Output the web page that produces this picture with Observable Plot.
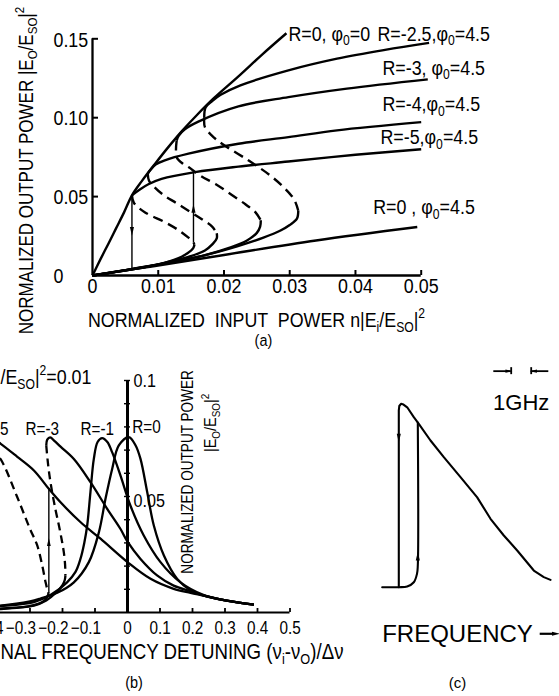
<!DOCTYPE html>
<html><head><meta charset="utf-8">
<script src="https://cdn.jsdelivr.net/npm/d3@7"></script>
<script src="https://cdn.jsdelivr.net/npm/@observablehq/plot@0.6"></script>
<style>
html,body{margin:0;padding:0;background:#fff;}
#fig{position:relative;width:559px;height:696px;overflow:hidden;background:#fff;}
#fig svg{position:absolute;left:0;top:0;}
</style></head><body><div id="fig"></div>
<script>
// ---------------- Panel (a): output power vs input power ----------------
const aEnvelope = [[0,0],[0.0012,0.0102],[0.0024,0.020],[0.0036,0.030],[0.0048,0.040],[0.006,0.0508],[0.0075,0.0598],[0.0095,0.0707],[0.0115,0.0812],[0.0136,0.0915],[0.016,0.1022],[0.0185,0.1125],[0.0222,0.1262],[0.0258,0.140],[0.0295,0.1535]];
const aR0phi45 = [[0,0],[0.0065,0.0042],[0.0095,0.0060],[0.02,0.0130],[0.034,0.0222],[0.0494,0.0307]];
const aR5Upper = [[0.006,0.0508],[0.0072,0.0545],[0.0085,0.0578],[0.0105,0.0612],[0.0156,0.0655],[0.0222,0.069],[0.0298,0.0722],[0.040,0.0765],[0.050,0.0800]];
const aR5Middle = [[0.006,0.0508],[0.0063,0.046],[0.008,0.040],[0.011,0.0338],[0.0131,0.0287],[0.0146,0.0240],[0.0153,0.0215],[0.0155,0.0195]];
const aR5Lower = [[0,0],[0.004,0.0026],[0.008,0.0053],[0.011,0.008],[0.013,0.0108],[0.0145,0.0142],[0.0153,0.0172],[0.0155,0.0195]];
const aR4Upper = [[0.0084,0.0645],[0.0088,0.0668],[0.0096,0.0703],[0.011,0.0730],[0.0146,0.0772],[0.0222,0.0835],[0.0298,0.0877],[0.0372,0.092],[0.050,0.0972]];
const aR4Middle = [[0.0084,0.0645],[0.0086,0.060],[0.0093,0.0565],[0.0108,0.051],[0.0128,0.0458],[0.0148,0.0405],[0.0167,0.0355],[0.0182,0.031],[0.0189,0.0268]];
const aR4Lower = [[0,0],[0.005,0.0033],[0.009,0.0062],[0.0125,0.0095],[0.0146,0.0118],[0.0171,0.0159],[0.0183,0.020],[0.0189,0.0235],[0.0189,0.0268]];
const aR3Upper = [[0.0128,0.0855],[0.0131,0.0885],[0.0140,0.0925],[0.0161,0.0975],[0.0222,0.1072],[0.0298,0.113],[0.0387,0.1184],[0.051,0.1243]];
const aR3Middle = [[0.0128,0.0855],[0.0127,0.080],[0.0128,0.075],[0.0137,0.071],[0.0146,0.0687],[0.0165,0.063],[0.0187,0.058],[0.0212,0.051],[0.0233,0.045],[0.0248,0.040],[0.0256,0.035]];
const aR3Lower = [[0,0],[0.006,0.004],[0.012,0.0085],[0.017,0.0128],[0.021,0.0178],[0.0235,0.0222],[0.025,0.027],[0.0255,0.031],[0.0256,0.035]];
const aR25Upper = [[0.0170,0.100],[0.0172,0.1065],[0.0182,0.1105],[0.0195,0.1145],[0.0225,0.1205],[0.0298,0.130],[0.0372,0.1374],[0.0445,0.1430],[0.0512,0.1474]];
const aR25Middle = [[0.0170,0.100],[0.0171,0.094],[0.0182,0.0885],[0.0197,0.0835],[0.0237,0.073],[0.0270,0.0635],[0.0293,0.055],[0.0307,0.048],[0.0313,0.041]];
const aR25Lower = [[0,0],[0.005,0.0034],[0.011,0.0078],[0.017,0.0128],[0.022,0.0185],[0.026,0.024],[0.0286,0.0285],[0.0300,0.032],[0.0311,0.036],[0.0313,0.041]];
const aJumps = [{x:0.006, from:0.0505, to:0.0042, head:0.0285, dir:"down"}, {x:0.01536, from:0.0205, to:0.0655, head:0.042, dir:"up"}];
const aXTickValues = [0,0.01,0.02,0.03,0.04,0.05];
const aXTickLabels = ["0","0.01","0.02","0.03","0.04","0.05"];
const aYTickValues = [0,0.05,0.10,0.15];
const aYTickLabels = ["0","0.05","0.10","0.15"];
const aSeriesLabels = ["R=0, φ_{0}=0","R=-2.5,φ_{0}=4.5","R=-3, φ_{0}=4.5","R=-4,φ_{0}=4.5","R=-5,φ_{0}=4.5","R=0 , φ_{0}=4.5"];
const aSeriesLabelAt = [[0.0298,0.1530],[0.04335,0.1530],[0.0441,0.1316],[0.0441,0.1084],[0.0438,0.0875],[0.0427,0.0430]];
const aXTitle = "NORMALIZED  INPUT  POWER n|E_{i}/E_{SO}|^{2}";
const aYTitle = "NORMALIZED OUTPUT POWER |E_{O}/E_{SO}|^{2}";
const aCaption = "(a)";

// ---------------- Panel (b): output power vs detuning ----------------
const bR0 = [[-0.42,0.0028],[-0.39,0.003],[-0.30,0.0048],[-0.268,0.006],[-0.216,0.0085],[-0.165,0.013],[-0.119,0.0217],[-0.088,0.0346],[-0.0677,0.049],[-0.047,0.062],[-0.0267,0.072],[0.004,0.0756],[0.025,0.072],[0.04,0.0662],[0.0606,0.0519],[0.081,0.0375],[0.112,0.0246],[0.153,0.0145],[0.194,0.0095],[0.235,0.0073],[0.31,0.0050],[0.389,0.0034]];
const bR1 = [[-0.42,0.0025],[-0.39,0.0028],[-0.288,0.0045],[-0.237,0.0075],[-0.186,0.013],[-0.160,0.0175],[-0.145,0.023],[-0.133,0.030],[-0.124,0.0375],[-0.114,0.0519],[-0.1036,0.0662],[-0.092,0.0735],[-0.078,0.0752],[-0.062,0.0735],[-0.047,0.069],[-0.0215,0.059],[0.0092,0.046],[0.05,0.0332],[0.1015,0.0217],[0.163,0.013],[0.235,0.0075],[0.31,0.0050],[0.389,0.0034]];
const bR3Upper = [[-0.25,0.072],[-0.247,0.0745],[-0.238,0.0755],[-0.225,0.074],[-0.206,0.0715],[-0.165,0.0662],[-0.114,0.0562],[-0.0625,0.0447],[-0.0215,0.036],[0,0.0305],[0.04,0.0231],[0.091,0.016],[0.142,0.0116],[0.194,0.0092],[0.235,0.0073],[0.31,0.005],[0.389,0.0034]];
const bR3Middle = [[-0.25,0.072],[-0.246,0.066],[-0.24,0.059],[-0.232,0.052],[-0.221,0.044],[-0.211,0.0375],[-0.202,0.031],[-0.196,0.026],[-0.192,0.0205],[-0.191,0.016]];
const bR3Lower = [[-0.42,0.0015],[-0.39,0.0017],[-0.288,0.003],[-0.25,0.0052],[-0.22,0.0085],[-0.2,0.0118],[-0.193,0.014],[-0.191,0.016]];
const bR5Upper = [[-0.44,0.0755],[-0.415,0.075],[-0.39,0.0727],[-0.34,0.0672],[-0.288,0.0612],[-0.242,0.0533],[-0.206,0.0475],[-0.145,0.039],[-0.083,0.0318],[0,0.0217],[0.071,0.0145],[0.142,0.0102],[0.194,0.0085],[0.235,0.0073],[0.31,0.005],[0.389,0.0034]];
const bR5Middle = [[-0.44,0.0755],[-0.425,0.072],[-0.39,0.066],[-0.34,0.050],[-0.30,0.036],[-0.278,0.029],[-0.262,0.020],[-0.252,0.013],[-0.245,0.009],[-0.243,0.008]];
const bR5Lower = [[-0.44,0.0012],[-0.39,0.0015],[-0.33,0.0022],[-0.288,0.0032],[-0.262,0.0045],[-0.25,0.006],[-0.243,0.008]];
const bJump = [{x:-0.242, from:0.008, to:0.0533, head:0.030}];
const bXTickValues = [-0.4,-0.3,-0.2,-0.1,0,0.1,0.2,0.3,0.4,0.5];
const bXTickLabels = ["−0.4","−0.3","−0.2","−0.1","0","0.1","0.2","0.3","0.4","0.5"];
const bYTickValues = [0.01,0.02,0.03,0.04,0.05,0.06,0.07,0.08,0.09,0.1];
const bYTickLabels = ["0.1","0.05"];
const bYTickLabelValues = [0.0998,0.0483];
const bSeriesLabels = ["R=-5","R=-3","R=-1","R=0"];
const bSeriesLabelAt = [[-0.3662,0.0792],[-0.3138,0.0792],[-0.1446,0.0792],[0.0145,0.0797]];
const bInputLabel = "/E_{SO}|^{2}=0.01";
const bXTitle = "NAL FREQUENCY DETUNING (ν_{i}-ν_{O})/Δν";
const bYTitle1 = "NORMALIZED OUTPUT POWER";
const bYTitle2 = "|E_{O}/E_{SO}|^{2}";
const bCaption = "(b)";

// ---------------- Panel (c): measured trace ----------------
const cDownSweep = [[0.83,0],[0.83,0.964],[0.855,0.988],[0.94,1.0],[1.065,0.996],[1.25,0.981],[1.58,0.927],[1.83,0.891],[2.415,0.80],[3.08,0.709],[3.915,0.60],[4.75,0.49],[5.415,0.373],[6.08,0.282],[6.75,0.20],[7.58,0.091],[8.08,0.055],[8.415,0.04]];
const cUpSweep = [[0,0],[0.83,0],[1.25,0.004],[1.58,0.027],[1.74,0.073],[1.78,0.118],[1.78,0.898]];
const cArrows = [{f:0.83, i:0.818, dir:"down"}, {f:1.78, i:0.164, dir:"up"}];
const cScaleBar = [6.45, 7.45]; // 1 GHz
const cScaleLabel = "1GHz";
const cXTitle = "FREQUENCY";
const cCaption = "(c)";

// ---------------- helpers ----------------
const W = 559, H = 696;
const FN = '"Liberation Sans",Arial,sans-serif';
const FR = '"Liberation Sans",Arial,sans-serif';
const headUp = {draw(c, size){const s=Math.sqrt(size); c.moveTo(0,-s*0.9); c.lineTo(s*0.36,s*0.6); c.lineTo(-s*0.36,s*0.6); c.closePath();}};
const headDown = {draw(c, size){const s=Math.sqrt(size); c.moveTo(0,s*0.9); c.lineTo(s*0.36,-s*0.6); c.lineTo(-s*0.36,-s*0.6); c.closePath();}};
const headRight = {draw(c, size){const s=Math.sqrt(size); c.moveTo(s*0.9,0); c.lineTo(-s*0.6,s*0.36); c.lineTo(-s*0.6,-s*0.36); c.closePath();}};
const headLeft = {draw(c, size){const s=Math.sqrt(size); c.moveTo(-s*0.9,0); c.lineTo(s*0.6,s*0.36); c.lineTo(s*0.6,-s*0.36); c.closePath();}};
const curve = (pts, sw, dash) => Plot.line(pts, {x: d => d[0], y: d => d[1], stroke: "black", strokeWidth: sw, curve: "catmull-rom", strokeDasharray: dash, strokeLinecap: "butt", strokeLinejoin: "round"});

function rich(svg, squeeze) {
  svg.querySelectorAll("text").forEach(t => {
    if (squeeze !== 1) t.setAttribute("transform", (t.getAttribute("transform") || "") + ` scale(${squeeze},1)`);
    const s = t.textContent;
    if (!/[_^]\{/.test(s)) return;
    const fs = parseFloat(getComputedStyle(t).fontSize) || 16;
    t.textContent = "";
    const re = /([_^])\{([^}]*)\}/g;
    let last = 0, m, cur = 0;
    const add = (str, kind) => {
      if (!str) return;
      const ts = document.createElementNS("http://www.w3.org/2000/svg", "tspan");
      ts.textContent = str;
      const target = kind === "_" ? 0.22 : kind === "^" ? -0.42 : 0;
      if (kind) ts.setAttribute("font-size", (fs * 0.68).toFixed(1));
      const dy = (target - cur) * fs;
      if (dy) ts.setAttribute("dy", dy.toFixed(2));
      cur = target;
      t.appendChild(ts);
    };
    while ((m = re.exec(s))) { add(s.slice(last, m.index), null); add(m[2], m[1]); last = re.lastIndex; }
    add(s.slice(last), null);
  });
}
const fig = document.getElementById("fig");
function place(p, squeeze) { fig.appendChild(p); rich(p, squeeze); }

// ---------------- draw (a) ----------------
place(Plot.plot({
  width: W, height: H, margin: 0, style: {background: "transparent"},
  x: {domain: [0, 0.05], range: [92, 420.7], axis: null},
  y: {domain: [0, 0.15], range: [275, 38.3], axis: null},
  marks: [
    Plot.ruleX([0], {y1: 0, y2: 0.15, strokeWidth: 2.3}),
    Plot.ruleY([0], {x1: 0, x2: 0.05, strokeWidth: 2.3}),
    Plot.ruleY(aYTickValues.slice(1), {y: d => d, x1: 0, x2: 0, insetRight: -6, strokeWidth: 2}),
    Plot.ruleX(aXTickValues.slice(1), {x: d => d, y1: 0, y2: 0, insetTop: -5, strokeWidth: 2}),
    curve(aEnvelope, 2.4), curve(aR0phi45, 2.4),
    curve(aR5Upper, 2.4), curve(aR5Lower, 2.4), curve(aR5Middle, 2.4, "10,6"),
    curve(aR4Upper, 2.4), curve(aR4Lower, 2.4), curve(aR4Middle, 2.4, "10,6"),
    curve(aR3Upper, 2.4), curve(aR3Lower, 2.4), curve(aR3Middle, 2.4, "10,6"),
    curve(aR25Upper, 2.4), curve(aR25Lower, 2.4), curve(aR25Middle, 2.4, "10,6"),
    Plot.ruleX(aJumps, {x: "x", y1: "from", y2: "to", strokeWidth: 1.4}),
    Plot.dot(aJumps.filter(d => d.dir === "down"), {x: "x", y: "head", symbol: headDown, r: 3.2, fill: "black", stroke: null}),
    Plot.dot(aJumps.filter(d => d.dir === "up"), {x: "x", y: "head", symbol: headUp, r: 3.2, fill: "black", stroke: null}),
    Plot.text(aXTickLabels, {x: (d, i) => aXTickValues[i], y: 0, dy: 11, text: d => d, fontSize: 21, fontFamily: FN, textAnchor: "middle"}),
    Plot.text(aYTickLabels, {x: 0, y: (d, i) => aYTickValues[i], dx: -39, dy: 1, text: d => d, fontSize: 21, fontFamily: FN, textAnchor: "start"}),
    Plot.text(aSeriesLabels, {x: (d, i) => aSeriesLabelAt[i][0], y: (d, i) => aSeriesLabelAt[i][1], text: d => d, fontSize: 21, fontFamily: FN, textAnchor: "start"}),
    Plot.text([aXTitle], {x: 0.02495, y: -0.0285, text: d => d, fontSize: 21, fontFamily: FN, textAnchor: "middle"}),
    Plot.text([aYTitle], {x: -0.0101, y: 0.0665, text: d => d, fontSize: 20, fontFamily: FN, textAnchor: "middle", rotate: -90}),
    Plot.text([aCaption], {x: 0.026, y: -0.0411, text: d => d, fontSize: 17, fontFamily: FN, textAnchor: "middle"})
  ]
}), 0.85);

// ---------------- draw (b) ----------------
const bNegIdx = bXTickLabels.map((d, i) => i).filter(i => bXTickValues[i] < 0);
const bPosIdx = bXTickLabels.map((d, i) => i).filter(i => bXTickValues[i] >= 0);
place(Plot.plot({
  width: W, height: H, margin: 0, style: {background: "transparent"},
  x: {domain: [-0.5, 0.5], range: [127 - 162.5, 127 + 162.5], axis: null},
  y: {domain: [0, 0.1], range: [612, 380], axis: null},
  marks: [
    Plot.ruleY([0], {x1: -0.5, x2: 0.5, strokeWidth: 2.2}),
    Plot.ruleX(bXTickValues, {x: d => d, y1: 0, y2: 0, insetTop: -4, strokeWidth: 1.8}),
    Plot.ruleY(bYTickValues, {y: d => d, x1: 0, x2: 0, insetLeft: -3, insetRight: -3, strokeWidth: 1.4}),
    curve(bR0, 2.3), curve(bR1, 2.3),
    curve(bR3Upper, 2.3), curve(bR3Lower, 2.3), curve(bR3Middle, 2.3, "8,5"),
    curve(bR5Upper, 2.3), curve(bR5Lower, 2.3), curve(bR5Middle, 2.3, "8,5"),
    Plot.ruleX(bJump, {x: "x", y1: "from", y2: "to", strokeWidth: 1.4}),
    Plot.dot(bJump, {x: "x", y: "head", symbol: headUp, r: 3, fill: "black", stroke: null}),
    Plot.ruleX([0], {y1: 0, y2: 0.1, strokeWidth: 3}),
    Plot.text(bNegIdx, {x: i => bXTickValues[i], y: 0, dy: 16, dx: 6, text: i => bXTickLabels[i], fontSize: 18, fontFamily: FN, textAnchor: "end"}),
    Plot.text(bPosIdx, {x: i => bXTickValues[i], y: 0, dy: 16, text: i => bXTickLabels[i], fontSize: 18, fontFamily: FN, textAnchor: "middle"}),
    Plot.text(bYTickLabels, {x: 0.0185, y: (d, i) => bYTickLabelValues[i], text: d => d, fontSize: 19, fontFamily: FN, textAnchor: "start"}),
    Plot.text(bSeriesLabels.slice(0, 1), {x: bSeriesLabelAt[0][0], y: bSeriesLabelAt[0][1], text: d => d, fontSize: 18, fontFamily: FN, textAnchor: "end"}),
    Plot.text(bSeriesLabels.slice(1), {x: (d, i) => bSeriesLabelAt[i + 1][0], y: (d, i) => bSeriesLabelAt[i + 1][1], text: d => d, fontSize: 18, fontFamily: FN, textAnchor: "start"}),
    Plot.text([bInputLabel], {x: -0.3908, y: 0.1013, text: d => d, fontSize: 21, fontFamily: FN, textAnchor: "start"}),
    Plot.text([bXTitle], {x: -0.3908, y: -0.017, text: d => d, fontSize: 22, fontFamily: FN, textAnchor: "start"}),
    Plot.text([bYTitle1], {x: 0.186, y: 0.0606, text: d => d, fontSize: 16, fontFamily: FN, textAnchor: "middle", rotate: -90}),
    Plot.text([bYTitle2], {x: 0.257, y: 0.0817, text: d => d, fontSize: 17, fontFamily: FN, textAnchor: "middle", rotate: -90}),
    Plot.text([bCaption], {x: 0.02, y: -0.030, text: d => d, fontSize: 17, fontFamily: FN, textAnchor: "middle"})
  ]
}), 0.85);

// ---------------- draw (c) ----------------
place(Plot.plot({
  width: W, height: H, margin: 0, style: {background: "transparent"},
  x: {domain: [0, 10], range: [381.7, 581.7], axis: null},
  y: {domain: [0, 1], range: [586.7, 403.3], axis: null},
  marks: [
    Plot.line(cDownSweep, {x: d => d[0], y: d => d[1], stroke: "black", strokeWidth: 2.1, curve: "linear", strokeLinejoin: "round"}),
    Plot.line(cUpSweep, {x: d => d[0], y: d => d[1], stroke: "black", strokeWidth: 2.1, curve: "catmull-rom", strokeLinejoin: "round"}),
    Plot.dot(cArrows.filter(d => d.dir === "down"), {x: "f", y: "i", symbol: headDown, r: 3.2, fill: "black", stroke: null}),
    Plot.dot(cArrows.filter(d => d.dir === "up"), {x: "f", y: "i", symbol: headUp, r: 3.2, fill: "black", stroke: null}),
    // 1 GHz scale marker
    Plot.ruleY([1.178], {x1: cScaleBar[0] - 0.87, x2: cScaleBar[0], strokeWidth: 1.8}),
    Plot.ruleY([1.178], {x1: cScaleBar[1], x2: cScaleBar[1] + 0.88, strokeWidth: 1.8}),
    Plot.ruleX(cScaleBar, {x: d => d, y1: 1.178, y2: 1.178, insetTop: -3.5, insetBottom: -3.5, strokeWidth: 1.8}),
    Plot.dot([cScaleBar[0]], {x: d => d, y: 1.178, dx: -3, symbol: headRight, r: 2.6, fill: "black", stroke: null}),
    Plot.dot([cScaleBar[1]], {x: d => d, y: 1.178, dx: 3, symbol: headLeft, r: 2.6, fill: "black", stroke: null}),
    Plot.text([cScaleLabel], {x: (cScaleBar[0] + cScaleBar[1]) / 2, y: 1.004, text: d => d, fontSize: 22, fontFamily: FR, textAnchor: "middle"}),
    Plot.text([cXTitle], {x: 0, y: -0.258, text: d => d, fontSize: 24, fontFamily: FR, textAnchor: "start"}),
    Plot.ruleY([-0.254], {x1: 7.9, x2: 8.6, strokeWidth: 2.2}),
    Plot.dot([8.65], {x: d => d, y: -0.254, symbol: headRight, r: 3, fill: "black", stroke: null}),
    Plot.text([cCaption], {x: 3.765, y: -0.522, text: d => d, fontSize: 15, fontFamily: FR, textAnchor: "middle"})
  ]
}), 1);
</script></body></html>
